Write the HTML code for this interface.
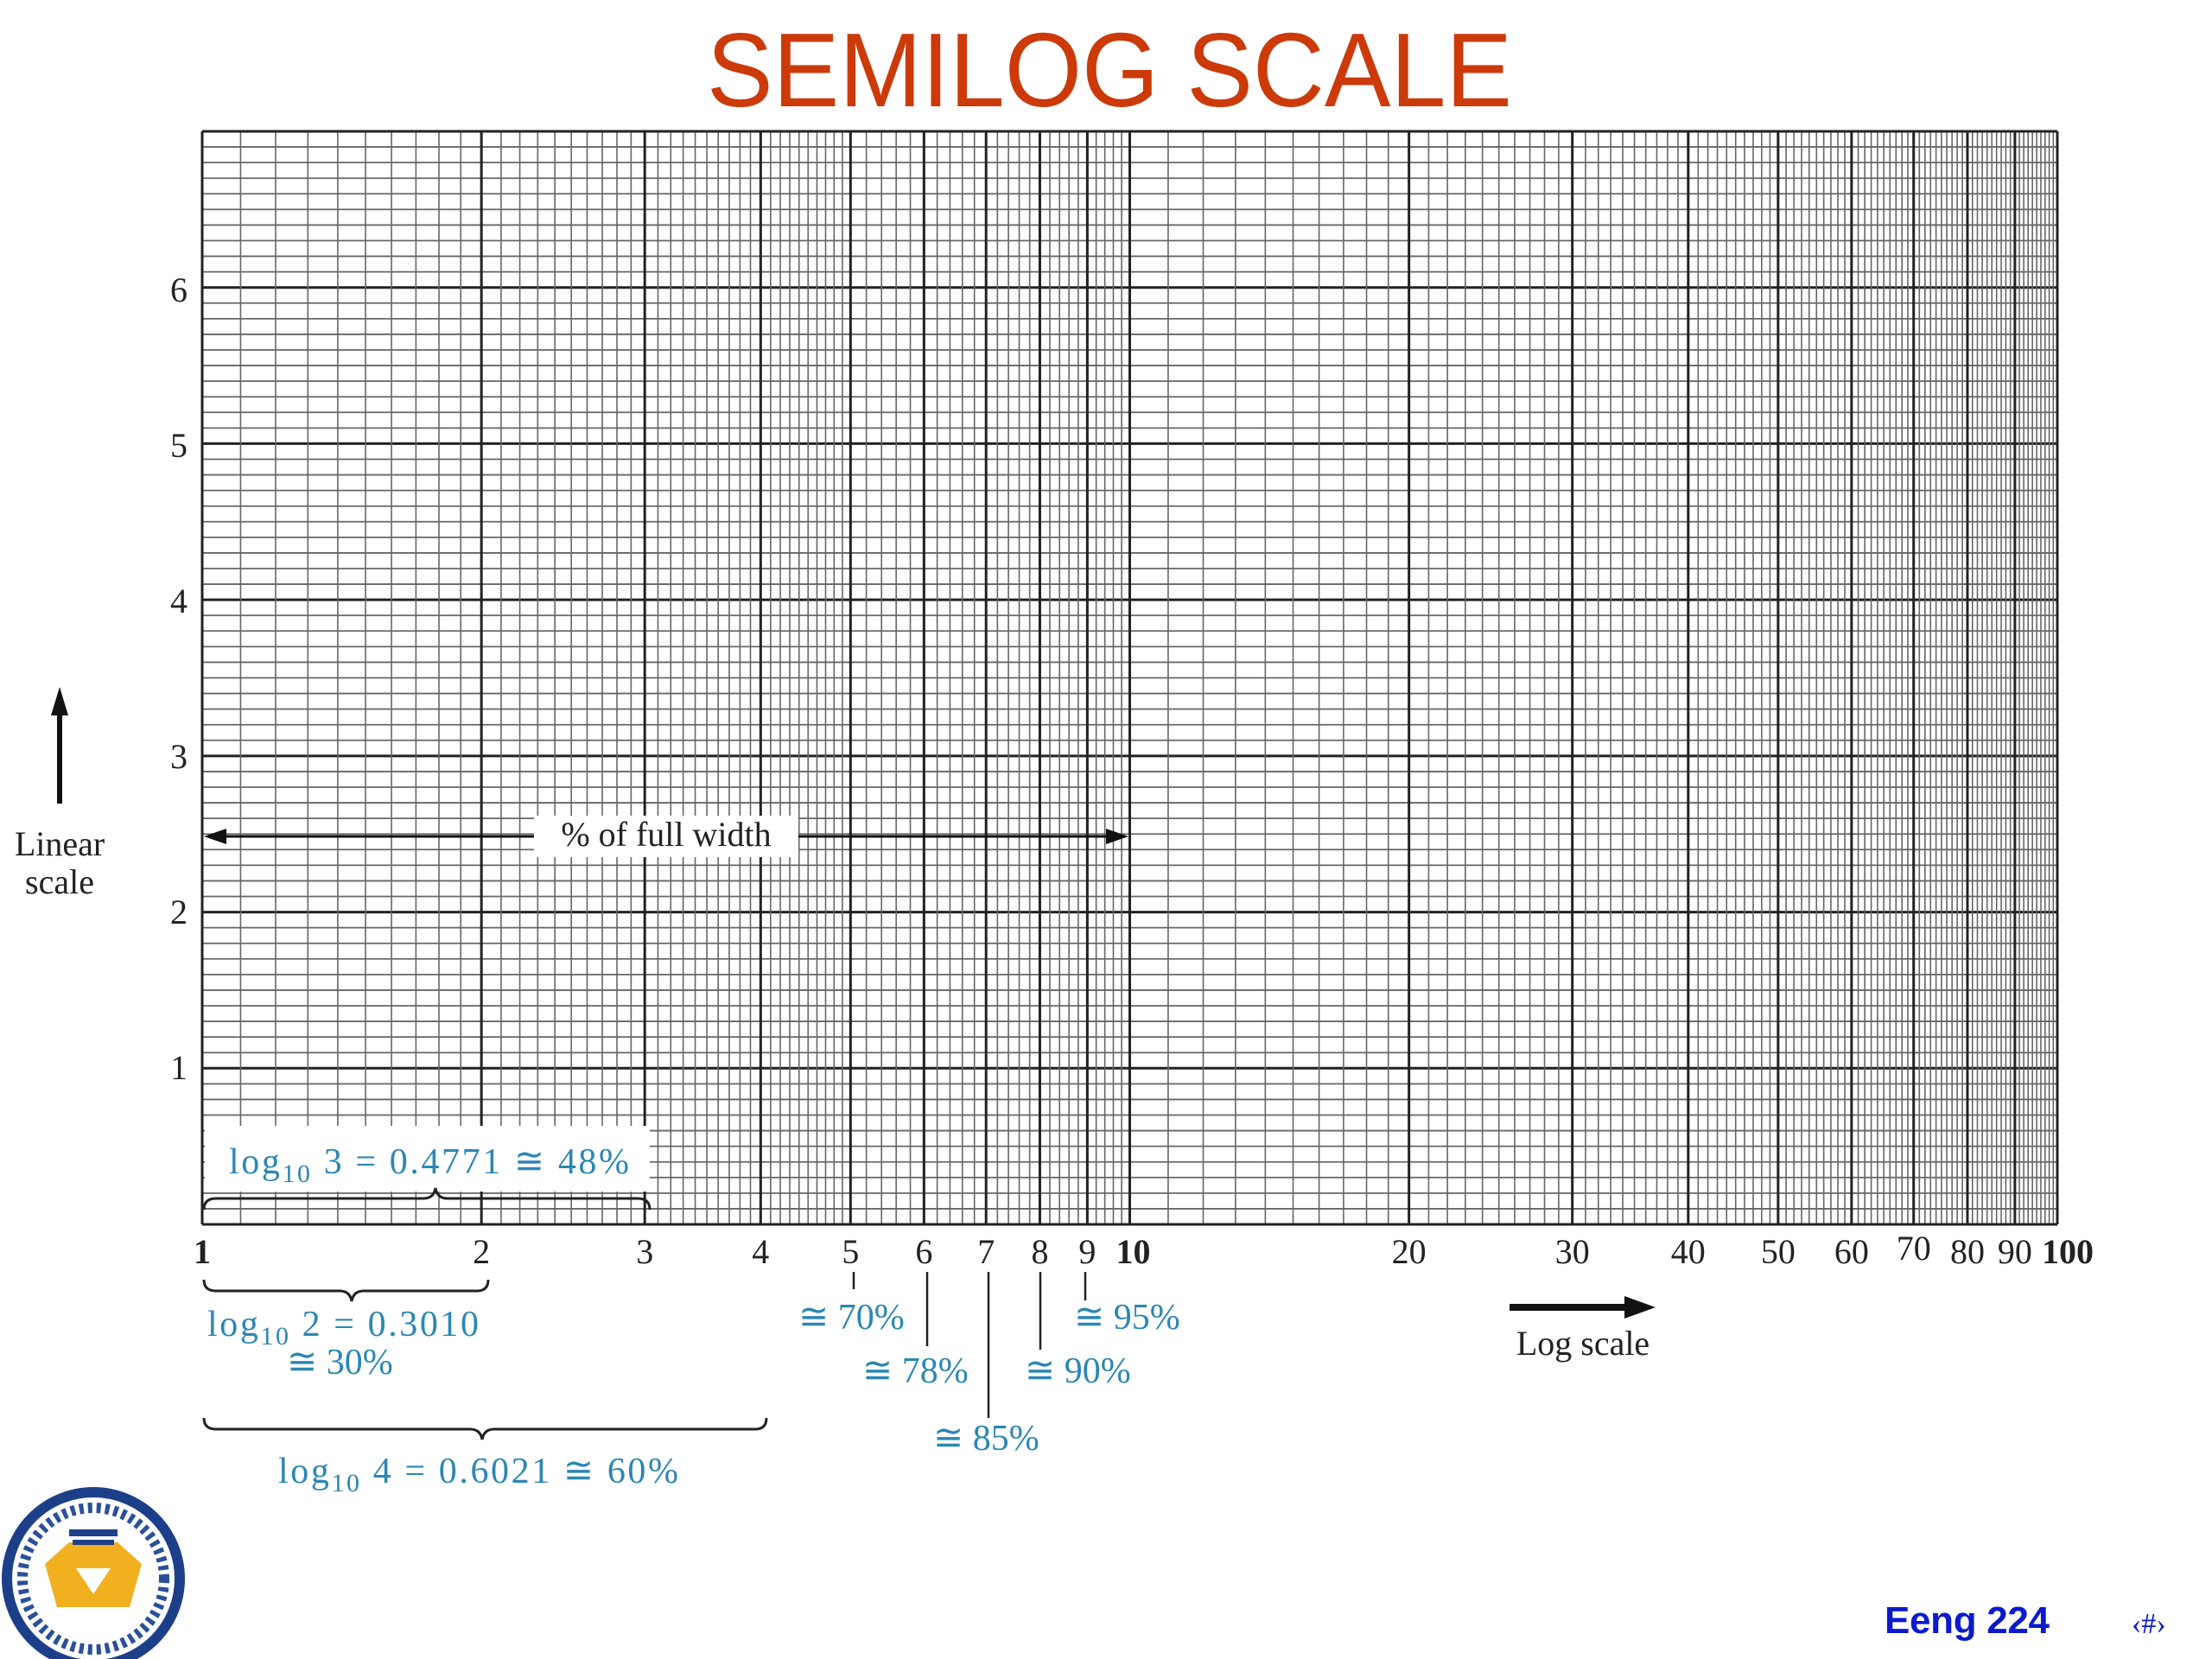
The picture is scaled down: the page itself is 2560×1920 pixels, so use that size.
<!DOCTYPE html>
<html><head><meta charset="utf-8"><style>
html,body{margin:0;padding:0;background:#fff;}
svg{display:block;}
</style></head><body>
<svg id="s" width="2560" height="1920" viewBox="0 0 2560 1920" xmlns="http://www.w3.org/2000/svg">
<rect width="2560" height="1920" fill="#fff"/>
<g id="grid"></g>
<!-- white boxes -->
<rect x="237" y="1303" width="515" height="76" fill="#fff"/>
<rect x="618" y="944" width="306" height="48" fill="#fff"/>
<!-- full width arrow -->
<line x1="250" y1="968" x2="618" y2="968" stroke="#111" stroke-width="3"/>
<line x1="924" y1="968" x2="1292" y2="968" stroke="#111" stroke-width="3"/>
<polygon points="236,968 262,959 262,977" fill="#111"/>
<polygon points="1306,968 1280,959 1280,977" fill="#111"/>
<text x="771" y="979" font-family="Liberation Serif, serif" font-size="40" text-anchor="middle" fill="#222">% of full width</text>
<!-- title -->
<text x="1284" y="123" font-family="'Comic Sans MS','Liberation Sans',sans-serif" font-size="122" fill="#cc3a0a" text-anchor="middle" textLength="932" lengthAdjust="spacingAndGlyphs">SEMILOG SCALE</text>
<!-- y labels -->
<g font-family="Liberation Serif, serif" font-size="40" fill="#222" text-anchor="middle">
<text x="207" y="349">6</text><text x="207" y="529">5</text><text x="207" y="709">4</text>
<text x="207" y="889">3</text><text x="207" y="1069">2</text><text x="207" y="1249">1</text>
</g>
<!-- x labels -->
<g id="xl" font-family="Liberation Serif, serif" font-size="40" fill="#222" text-anchor="middle"></g>
<!-- linear scale -->
<line x1="69" y1="825" x2="69" y2="930" stroke="#111" stroke-width="6"/>
<polygon points="69,795 59,828 79,828" fill="#111"/>
<g font-family="Liberation Serif, serif" font-size="40" fill="#222" text-anchor="middle">
<text x="69" y="990">Linear</text><text x="69" y="1034">scale</text>
<text x="1832" y="1568">Log scale</text>
</g>
<line x1="1747" y1="1513" x2="1885" y2="1513" stroke="#111" stroke-width="8"/>
<polygon points="1916,1513 1880,1500 1880,1526" fill="#111"/>
<!-- braces -->
<g fill="none" stroke="#222" stroke-width="3">
<path d="M236,1400 Q236,1387 250,1387 L490,1387 Q502,1387 504,1375 Q506,1387 518,1387 L738,1387 Q752,1387 752,1400"/>
<path d="M236,1481 Q236,1494 250,1494 L393,1494 Q405,1494 407,1506 Q409,1494 421,1494 L552,1494 Q565,1494 565,1481"/>
<path d="M236,1641 Q236,1654 250,1654 L544,1654 Q556,1654 558,1666 Q560,1654 572,1654 L874,1654 Q887,1654 887,1641"/>
</g>
<g stroke="#222" stroke-width="2.5">
<line x1="988" y1="1472" x2="988" y2="1492"/>
<line x1="1073" y1="1472" x2="1073" y2="1558"/>
<line x1="1144" y1="1472" x2="1144" y2="1641"/>
<line x1="1204" y1="1472" x2="1204" y2="1562"/>
<line x1="1256" y1="1472" x2="1256" y2="1505"/>
</g>
<g font-family="Liberation Serif, serif" font-size="42" fill="#2b87b3">
<text x="265" y="1358" textLength="463">log<tspan font-size="30" dy="10">10</tspan><tspan dy="-10"> 3  =  0.4771  ≅  48%</tspan></text>
<text x="240" y="1546" textLength="314">log<tspan font-size="30" dy="10">10</tspan><tspan dy="-10"> 2  =  0.3010</tspan></text>
<text x="332" y="1590">≅  30%</text>
<text x="322" y="1716" textLength="463">log<tspan font-size="30" dy="10">10</tspan><tspan dy="-10"> 4  =  0.6021  ≅  60%</tspan></text>
<text x="924" y="1538">≅  70%</text>
<text x="998" y="1600">≅  78%</text>
<text x="1080" y="1678">≅  85%</text>
<text x="1186" y="1600">≅  90%</text>
<text x="1243" y="1538">≅  95%</text>
</g>
<!-- footer -->
<text x="2181" y="1890" font-family="'Comic Sans MS','Liberation Sans',sans-serif" font-weight="bold" font-size="44" fill="#0a1acc" textLength="191">Eeng 224</text>
<text x="2467" y="1890" font-family="Liberation Serif, serif" font-size="34" fill="#0a1acc">‹#›</text>
<!-- logo -->
<circle cx="108" cy="1827" r="100" fill="#fff" stroke="#1d3f8a" stroke-width="12"/>
<circle cx="108" cy="1827" r="82" fill="none" stroke="#2b4f9a" stroke-width="12" stroke-dasharray="5 5"/>
<circle cx="108" cy="1827" r="70" fill="#fff"/>
<polygon points="52,1810 80,1785 136,1785 164,1810 150,1860 66,1860" fill="#f0b020"/>
<polygon points="88,1815 128,1815 108,1845" fill="#fff"/>
<rect x="80" y="1770" width="56" height="8" fill="#1d3f8a"/><rect x="84" y="1782" width="48" height="6" fill="#1d3f8a"/>
</svg>
<script>
(function(){
var ns="http://www.w3.org/2000/svg",g=document.getElementById('grid');
var L=234,R=2381,T=152,B=1417,D=(R-L)/2;
function ln(x1,y1,x2,y2,w,c){var e=document.createElementNS(ns,'line');e.setAttribute('x1',x1);e.setAttribute('y1',y1);e.setAttribute('x2',x2);e.setAttribute('y2',y2);e.setAttribute('stroke',c);e.setAttribute('stroke-width',w);g.appendChild(e);}
for(var i=0;i<=70;i++){var y=B-i*(B-T)/70;ln(L,y,R,y,i%10==0?3:1.8,i%10==0?'#222':'#666');}
var xs=function(v){return L+D*Math.log10(v);};
for(var k=10;k<=100;k++){if(k>50 && k%2==1)continue;var v=k/10;ln(xs(v),T,xs(v),B,k%10==0?3:1.6,k%10==0?'#222':'#666');}
for(var k=11;k<=100;k++){ln(xs(k),T,xs(k),B,k%10==0?3:1.6,k%10==0?'#222':'#666');}
ln(L,T,R,T,3,'#222');ln(L,B,R,B,3,'#222');ln(L,T,L,B,3,'#222');ln(R,T,R,B,3,'#222');
var xl=document.getElementById('xl');
var labs=[1,2,3,4,5,6,7,8,9,10,20,30,40,50,60,70,80,90,100];
labs.forEach(function(v){var t=document.createElementNS(ns,'text');var x=xs(v);if(v==100)x+=12;if(v==10)x+=4;t.setAttribute('x',x);t.setAttribute('y',v==70?1458:1462);if(v==1||v==10||v==100)t.setAttribute('font-weight','bold');t.textContent=String(v);xl.appendChild(t);});
})();
</script>
</body></html>
